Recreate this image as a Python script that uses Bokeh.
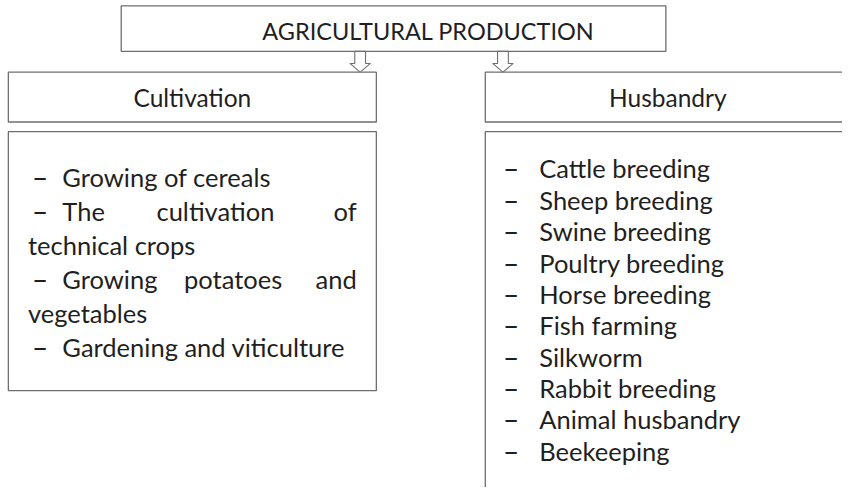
from bokeh.plotting import figure
from bokeh.models import ColumnDataSource, Range1d
from bokeh.core.properties import value
from bokeh.embed import file_html
from bokeh.resources import INLINE

# ---- content ----
title_text = ["AGRICULTURAL PRODUCTION"]
branch_titles = ["Cultivation", "Husbandry"]
cultivation_items = ["Growing of cereals",
                     "The cultivation of technical crops",
                     "Growing potatoes and vegetables",
                     "Gardening and viticulture"]
cultivation_wrap = [None, 3, 3, None]   # words on the first (justified) line
husbandry_items = ["Cattle breeding", "Sheep breeding", "Swine breeding",
                   "Poultry breeding", "Horse breeding", "Fish farming",
                   "Silkworm", "Rabbit breeding", "Animal husbandry",
                   "Beekeeping"]

# ---- layout (reference pixel coordinates, 858 x 503 canvas) ----
W, H = 842, 487
FONT = "Lato"
FS = "25.5px"
TXT = "#1f1f1f"
LINE = "#6e6e6e"
TDY = -9.5   # baseline correction for the svg text renderer

p = figure(width=W, height=H, output_backend="svg", toolbar_location=None,
           x_range=Range1d(0, 858), y_range=Range1d(503, 0),
           x_axis_location=None, y_axis_location=None, min_border=0,
           tools="")
p.grid.visible = False
p.outline_line_color = None
p.background_fill_color = "white"
p.border_fill_color = "white"

# boxes
boxes = dict(left=[123, 8, 494, 8, 494],
             right=[678, 383, 900, 383, 900],
             top=[5.5, 74, 74, 135.5, 135.5],
             bottom=[52.5, 125.5, 125.5, 403, 540])
p.quad(source=ColumnDataSource(boxes), left="left", right="right", top="top",
       bottom="bottom", fill_color="white", line_color=LINE, line_width=1.3)

# hollow arrows
def arrow(cx, y_top=52.5, y_head=65, y_tip=74, shaft=5.5, head=10.5):
    xs = [cx - shaft, cx - shaft, cx - head, cx, cx + head, cx + shaft, cx + shaft]
    ys = [y_top, y_head, y_head, y_tip, y_head, y_head, y_top]
    return xs, ys

axs, ays = zip(*[arrow(c) for c in (366.5, 512)])
p.patches(xs=list(axs), ys=list(ays), fill_color="white", line_color=LINE,
          line_width=1.1)

def txt(x, y, t, align="left", size=FS):
    p.text(x=x, y=[v + TDY for v in y], text=t, text_align=align,
           text_baseline="alphabetic", text_font=value(FONT),
           text_font_size=size, text_color=TXT)

# titles
txt([436], [41], title_text, align="center", size="23.5px")
txt([195.5, 680], [110, 110], branch_titles, align="center", size="24.5px")

# cultivation list (justified block 63..363)
DASH_X, TEXT_X, CONT_X, RIGHT_X = 32, 63, 28, 363
CW = 12.0
y = 192
dx, dy, dt = [], [], []
lx, ly, lt, la = [], [], [], []
for item, wrap in zip(cultivation_items, cultivation_wrap):
    dx.append(DASH_X); dy.append(y); dt.append("\u2013")
    words = item.split()
    if wrap is None:
        lx.append(TEXT_X); ly.append(y); lt.append(item); la.append("left")
        y += 35
    else:
        first = words[:wrap]
        est = [len(w) * CW for w in first]
        gap = (RIGHT_X - TEXT_X - sum(est)) / (len(first) - 1)
        pos = TEXT_X
        for i, w in enumerate(first):
            if i == 0:
                lx.append(TEXT_X); la.append("left")
            elif i == len(first) - 1:
                lx.append(RIGHT_X); la.append("right")
            else:
                lx.append(pos + est[i] / 2); la.append("center")
            ly.append(y); lt.append(w)
            pos += est[i] + gap
        y += 35
        lx.append(CONT_X); ly.append(y); lt.append(" ".join(words[wrap:])); la.append("left")
        y += 35

txt(dx, dy, dt, size="28px")
for x_, y_, t_, a_ in zip(lx, ly, lt, la):
    txt([x_], [y_], [t_], align=a_)

# husbandry list
hy = [183 + 32.4 * i for i in range(len(husbandry_items))]
txt([512] * len(hy), hy, ["\u2013"] * len(hy), size="28px")
txt([549] * len(hy), hy, husbandry_items)

open("out.html", "w").write(file_html(p, INLINE))
